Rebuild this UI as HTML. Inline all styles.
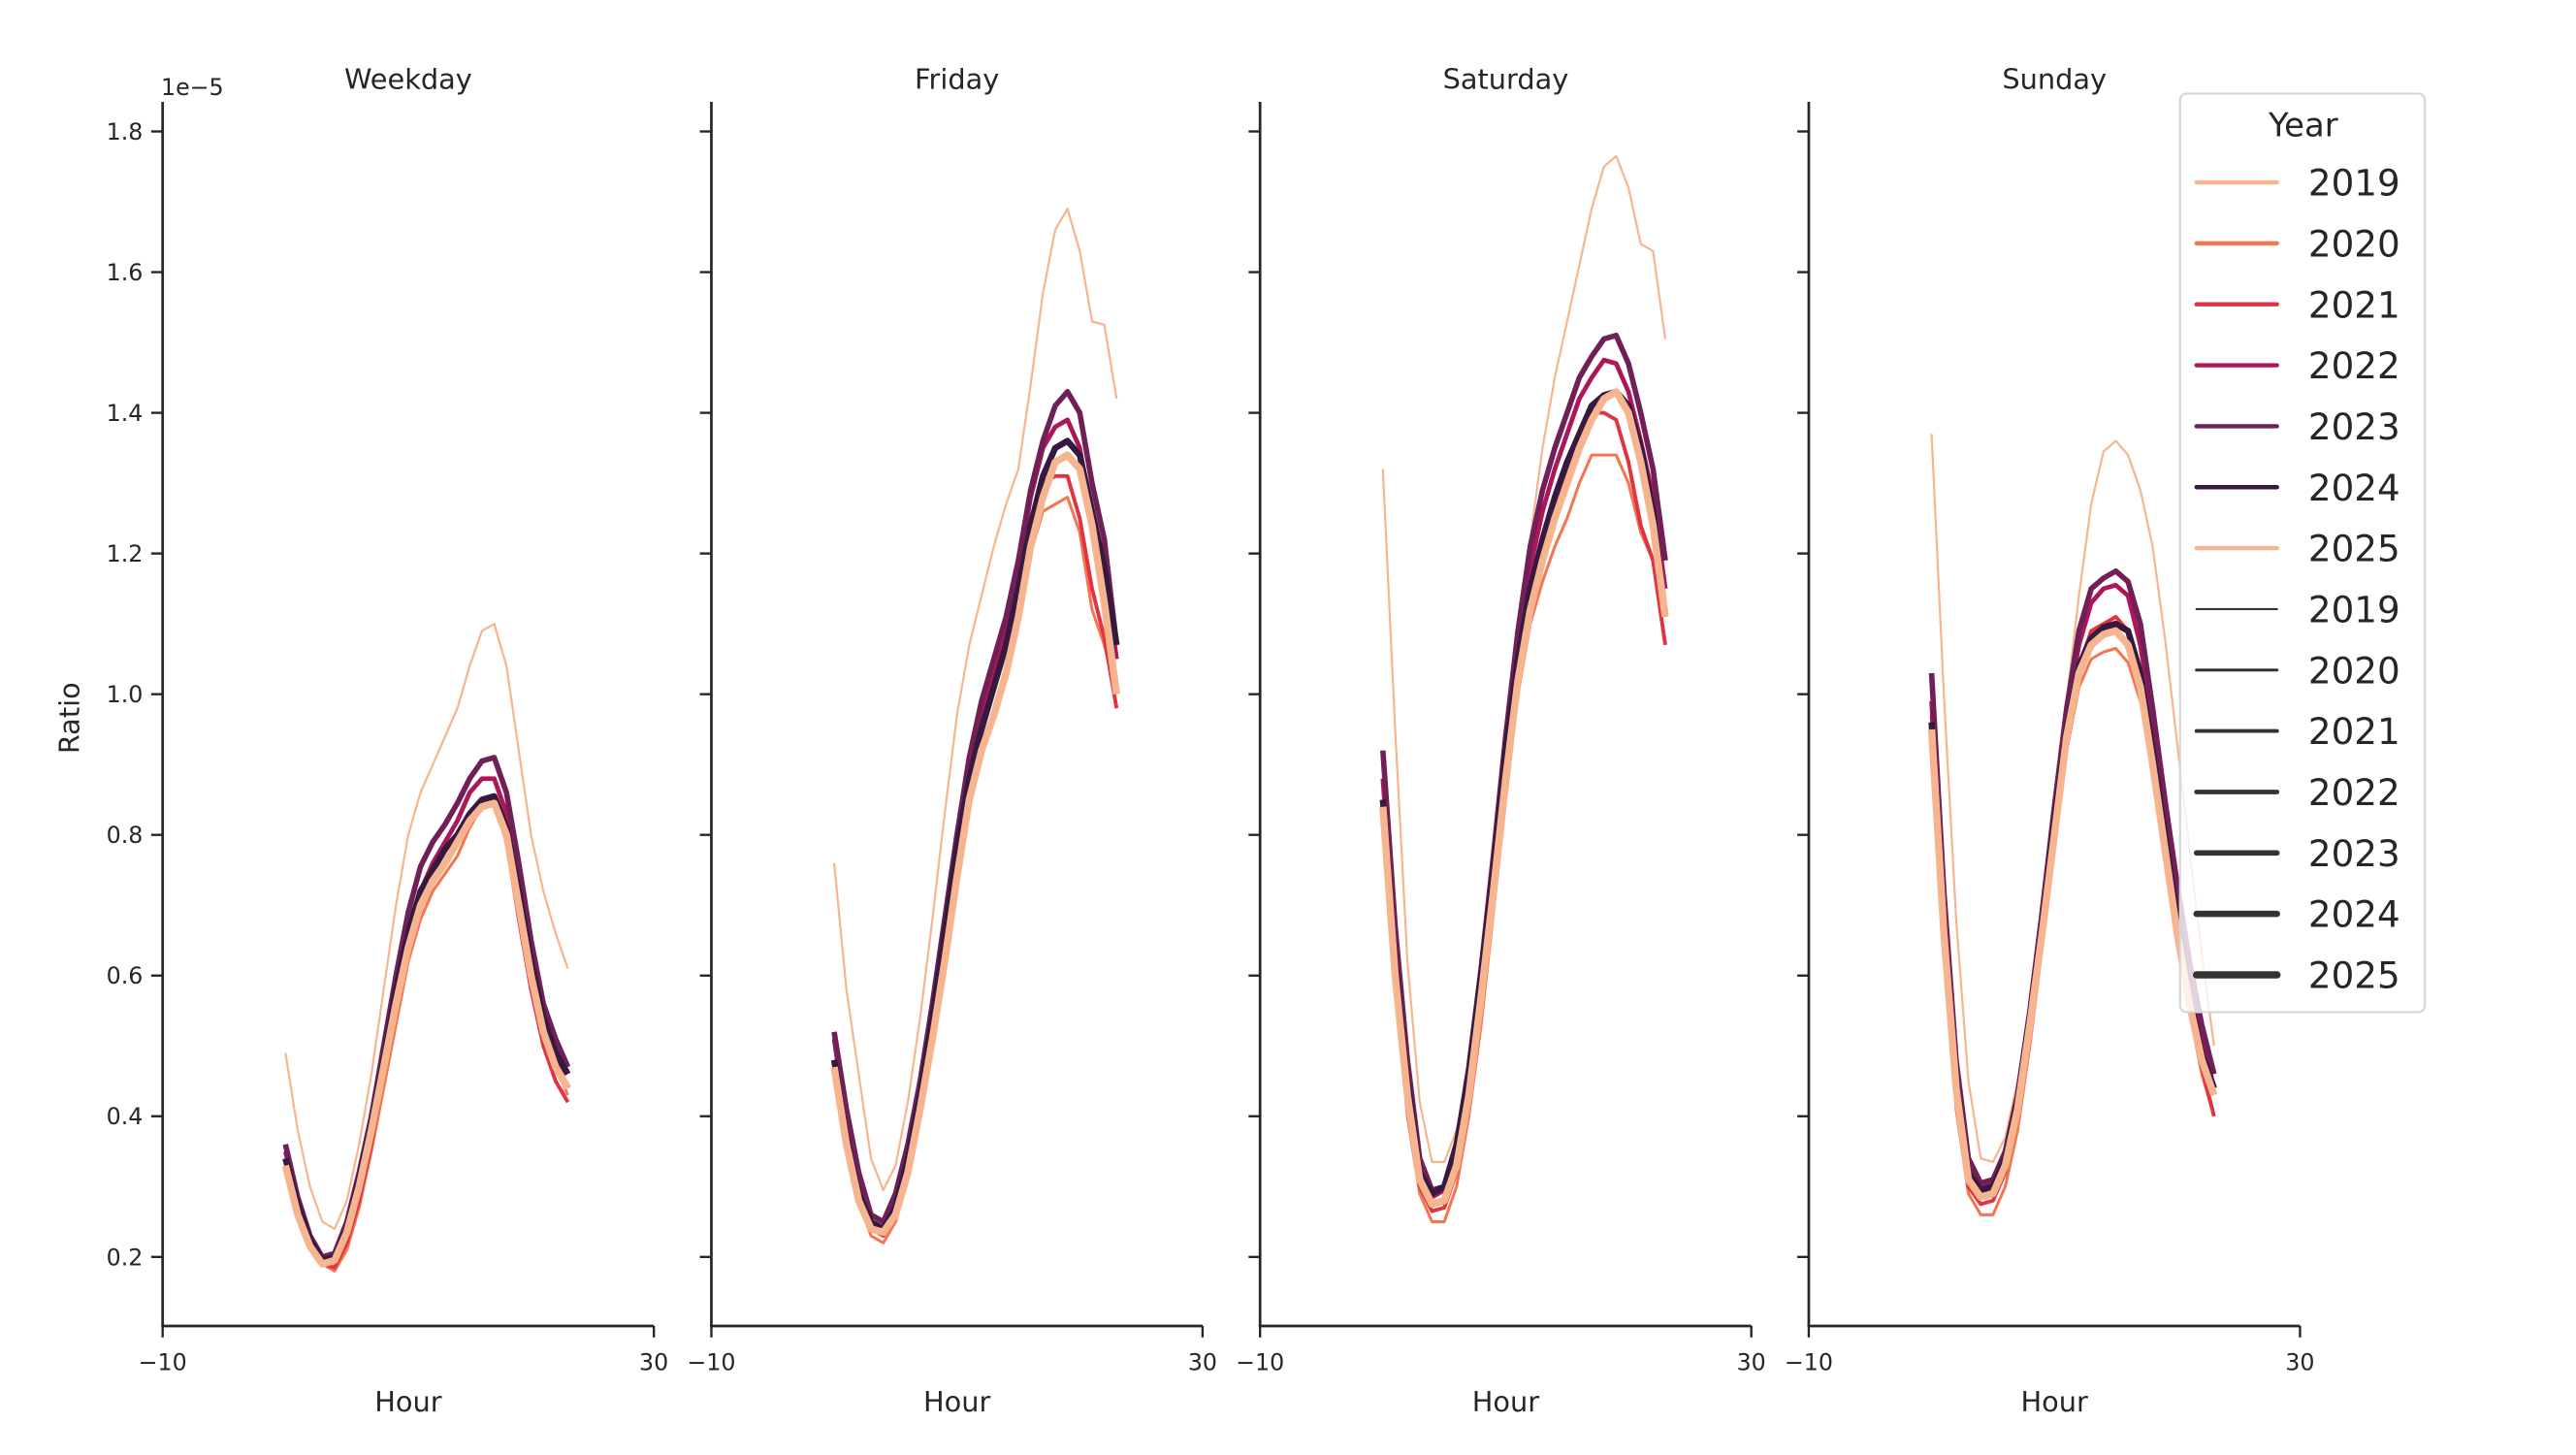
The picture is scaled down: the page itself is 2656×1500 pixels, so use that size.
<!DOCTYPE html>
<html><head><meta charset="utf-8"><style>
html,body{margin:0;padding:0;background:#fff;}
svg{display:block;font-family:"DejaVu Sans","Liberation Sans",sans-serif;}
</style></head><body>
<svg id="chart" width="2656" height="1500" viewBox="0 0 1568 885.54" xmlns="http://www.w3.org/2000/svg">
<rect x="0" y="0" width="1568" height="885.54" fill="#fff"/>
<g id="plots"></g>
<g id="legend"></g>
</svg>
<script>
const years = ['2019','2020','2021','2022','2023','2024','2025'];
const panels = ['Weekday','Friday','Saturday','Sunday'];
const hours = [0,1,2,3,4,5,6,7,8,9,10,11,12,13,14,15,16,17,18,19,20,21,22,23];
const yTicks = [0.2,0.4,0.6,0.8,1.0,1.2,1.4,1.6,1.8];
const yTickLabels = ['0.2','0.4','0.6','0.8','1.0','1.2','1.4','1.6','1.8'];
const xTicks = [-10,30];
const xTickLabels = ['\u221210','30'];
const weekday2019 = [0.49,0.38,0.30,0.25,0.24,0.28,0.36,0.46,0.58,0.70,0.80,0.86,0.90,0.94,0.98,1.04,1.09,1.10,1.04,0.92,0.80,0.72,0.66,0.61];
const weekday2020 = [0.34,0.27,0.22,0.19,0.18,0.21,0.27,0.35,0.44,0.53,0.62,0.68,0.72,0.745,0.77,0.81,0.84,0.845,0.80,0.70,0.60,0.52,0.47,0.43];
const weekday2021 = [0.34,0.27,0.22,0.19,0.185,0.22,0.28,0.36,0.46,0.55,0.64,0.70,0.73,0.76,0.79,0.83,0.85,0.85,0.79,0.68,0.58,0.50,0.45,0.42];
const weekday2022 = [0.35,0.28,0.225,0.195,0.20,0.24,0.31,0.39,0.48,0.58,0.67,0.72,0.76,0.79,0.82,0.86,0.88,0.88,0.83,0.73,0.62,0.54,0.48,0.44];
const weekday2023 = [0.36,0.285,0.23,0.20,0.205,0.25,0.32,0.40,0.50,0.60,0.69,0.755,0.79,0.815,0.845,0.88,0.905,0.91,0.86,0.76,0.65,0.56,0.51,0.47];
const weekday2024 = [0.34,0.275,0.225,0.195,0.20,0.24,0.31,0.39,0.48,0.58,0.66,0.72,0.75,0.78,0.80,0.83,0.85,0.855,0.81,0.72,0.62,0.54,0.49,0.46];
const weekday2025 = [0.33,0.26,0.215,0.19,0.195,0.235,0.30,0.38,0.47,0.56,0.64,0.70,0.735,0.76,0.79,0.82,0.84,0.845,0.80,0.70,0.60,0.52,0.47,0.44];
const friday2019 = [0.76,0.58,0.46,0.34,0.295,0.33,0.42,0.54,0.68,0.83,0.97,1.07,1.14,1.21,1.27,1.32,1.44,1.57,1.66,1.69,1.63,1.53,1.525,1.42];
const friday2020 = [0.47,0.36,0.28,0.23,0.22,0.25,0.31,0.40,0.50,0.62,0.74,0.85,0.92,0.98,1.04,1.12,1.20,1.26,1.27,1.28,1.23,1.12,1.07,1.00];
const friday2021 = [0.48,0.37,0.29,0.24,0.23,0.26,0.33,0.42,0.53,0.65,0.78,0.89,0.96,1.02,1.08,1.17,1.25,1.30,1.31,1.31,1.25,1.15,1.08,0.98];
const friday2022 = [0.51,0.39,0.30,0.25,0.24,0.27,0.34,0.44,0.55,0.67,0.79,0.90,0.97,1.03,1.10,1.18,1.28,1.35,1.38,1.39,1.35,1.25,1.18,1.05];
const friday2023 = [0.52,0.41,0.32,0.26,0.25,0.29,0.36,0.45,0.56,0.68,0.80,0.91,0.99,1.05,1.11,1.19,1.29,1.36,1.41,1.43,1.40,1.30,1.22,1.07];
const friday2024 = [0.48,0.37,0.29,0.25,0.24,0.27,0.34,0.43,0.54,0.66,0.78,0.88,0.95,1.01,1.07,1.15,1.24,1.31,1.35,1.36,1.34,1.26,1.18,1.07];
const friday2025 = [0.47,0.36,0.28,0.24,0.235,0.26,0.32,0.41,0.51,0.62,0.74,0.85,0.92,0.97,1.03,1.11,1.21,1.28,1.33,1.34,1.32,1.24,1.13,1.00];
const saturday2019 = [1.32,0.95,0.62,0.42,0.335,0.335,0.38,0.46,0.57,0.70,0.86,1.04,1.22,1.35,1.45,1.53,1.61,1.69,1.75,1.765,1.72,1.64,1.63,1.505];
const saturday2020 = [0.83,0.58,0.40,0.29,0.25,0.25,0.30,0.40,0.53,0.69,0.85,1.00,1.10,1.16,1.21,1.25,1.30,1.34,1.34,1.34,1.30,1.23,1.19,1.11];
const saturday2021 = [0.84,0.60,0.42,0.30,0.265,0.27,0.32,0.42,0.56,0.72,0.89,1.04,1.14,1.21,1.27,1.32,1.36,1.40,1.40,1.39,1.33,1.24,1.19,1.07];
const saturday2022 = [0.88,0.64,0.46,0.33,0.285,0.295,0.35,0.46,0.60,0.76,0.93,1.07,1.18,1.26,1.32,1.37,1.42,1.45,1.475,1.47,1.43,1.36,1.28,1.15];
const saturday2023 = [0.92,0.67,0.48,0.34,0.295,0.30,0.36,0.47,0.61,0.77,0.94,1.09,1.21,1.29,1.35,1.40,1.45,1.48,1.505,1.51,1.47,1.40,1.32,1.19];
const saturday2024 = [0.85,0.62,0.45,0.32,0.29,0.30,0.36,0.46,0.60,0.75,0.92,1.05,1.15,1.22,1.28,1.33,1.37,1.41,1.425,1.43,1.41,1.35,1.26,1.11];
const saturday2025 = [0.84,0.60,0.43,0.31,0.275,0.28,0.33,0.43,0.57,0.72,0.88,1.02,1.12,1.19,1.25,1.30,1.35,1.39,1.42,1.43,1.40,1.33,1.24,1.11];
const sunday2019 = [1.37,1.00,0.68,0.45,0.34,0.335,0.37,0.45,0.55,0.66,0.82,0.99,1.14,1.27,1.345,1.36,1.34,1.29,1.21,1.08,0.93,0.78,0.63,0.50];
const sunday2020 = [0.96,0.64,0.41,0.29,0.26,0.26,0.30,0.38,0.50,0.64,0.78,0.92,1.01,1.05,1.06,1.065,1.045,0.99,0.90,0.78,0.66,0.55,0.46,0.40];
const sunday2021 = [0.97,0.66,0.43,0.30,0.275,0.28,0.32,0.40,0.52,0.66,0.81,0.95,1.04,1.09,1.10,1.11,1.09,1.03,0.93,0.80,0.68,0.57,0.47,0.40];
const sunday2022 = [0.99,0.69,0.46,0.33,0.30,0.305,0.34,0.42,0.54,0.68,0.83,0.97,1.07,1.13,1.15,1.155,1.14,1.07,0.96,0.83,0.71,0.60,0.51,0.44];
const sunday2023 = [1.03,0.72,0.48,0.34,0.305,0.31,0.35,0.43,0.55,0.69,0.84,0.98,1.09,1.15,1.165,1.175,1.16,1.10,0.98,0.85,0.73,0.62,0.53,0.46];
const sunday2024 = [0.96,0.67,0.45,0.32,0.295,0.30,0.34,0.42,0.54,0.67,0.82,0.95,1.04,1.08,1.095,1.10,1.09,1.03,0.92,0.80,0.68,0.57,0.49,0.44];
const sunday2025 = [0.95,0.66,0.44,0.31,0.285,0.29,0.33,0.41,0.53,0.66,0.80,0.94,1.03,1.07,1.085,1.09,1.07,1.01,0.90,0.78,0.66,0.56,0.48,0.43];
const seriesByPanel = [
  [weekday2019,weekday2020,weekday2021,weekday2022,weekday2023,weekday2024,weekday2025],
  [friday2019,friday2020,friday2021,friday2022,friday2023,friday2024,friday2025],
  [saturday2019,saturday2020,saturday2021,saturday2022,saturday2023,saturday2024,saturday2025],
  [sunday2019,sunday2020,sunday2021,sunday2022,sunday2023,sunday2024,sunday2025]
];

const NS = 'http://www.w3.org/2000/svg';
const colors = ['#f6b48f','#f37651','#e13342','#ad1759','#701f57','#35193e','#f6b48f'];
const widths = [1.3,1.8,2.3,2.8,3.3,3.8,4.4];
const panelLeft = [99,433,767,1101];
const panelW = 299;
const yTop = 62, yBottom = 807;
const xMin = -10, xMax = 30;
function xScale(p, h){ return panelLeft[p] + (h - xMin) / (xMax - xMin) * panelW; }
function yScale(v){ return 765 - (v - 0.2) * 428.125; }
function mk(tag, attrs, parent){ const e = document.createElementNS(NS, tag); for (const k in attrs) e.setAttribute(k, attrs[k]); parent.appendChild(e); return e; }

const plots = document.getElementById('plots');
const txt = '#262626';
panels.forEach((name, p) => {
  const g = mk('g', {}, plots);
  
  
  const left = panelLeft[p];
  const t = mk('text', {x: left + panelW/2, y: 54, 'text-anchor':'middle', 'font-size':'17', fill: txt}, g);
  t.textContent = name;
  
  
  const lg = mk('g', {fill:'none','stroke-linejoin':'round','stroke-linecap':'butt'}, g);
  seriesByPanel[p].forEach((vals, i) => {
    const d = vals.map((v, k) => (k ? 'L' : 'M') + xScale(p, hours[k]).toFixed(2) + ' ' + yScale(v).toFixed(2)).join(' ');
    const path = mk('path', {d: d, stroke: colors[i], 'stroke-width': widths[i]}, lg);
    
    
  });
  const ya = mk('line', {x1:left, y1:yTop, x2:left, y2:yBottom+0.6, stroke:txt, 'stroke-width':1.6}, g);
  
  
  const xa = mk('line', {x1:left-0.8, y1:yBottom, x2:left+panelW, y2:yBottom, stroke:txt, 'stroke-width':1.6}, g);
  
  
  yTicks.forEach((v, k) => {
    const tk = mk('line', {x1:left-7, y1:yScale(v), x2:left, y2:yScale(v), stroke:txt, 'stroke-width':1.4}, g);
    
    
    if (p === 0) {
      const tl = mk('text', {x:left-12, y:yScale(v)+5, 'text-anchor':'end', 'font-size':'14', fill:txt}, g);
      tl.textContent = yTickLabels[k];
      
      
    }
  });
  xTicks.forEach((v, k) => {
    const x = xScale(p, v);
    const tk = mk('line', {x1:x, y1:yBottom, x2:x, y2:yBottom+7, stroke:txt, 'stroke-width':1.4}, g);
    
    
    const tl = mk('text', {x:x, y:yBottom+27, 'text-anchor':'middle', 'font-size':'14', fill:txt}, g);
    tl.textContent = xTickLabels[k];
    
    
  });
  const xt = mk('text', {x:left+panelW/2, y:859, 'text-anchor':'middle', 'font-size':'17', fill:txt}, g);
  xt.textContent = 'Hour';
  
  
});
const off = mk('text', {x:98, y:58, 'font-size':'14', fill:txt}, plots);
off.textContent = '1e\u22125';


const yt = mk('text', {x:0, y:0, 'text-anchor':'middle', 'font-size':'17', fill:txt, transform:'translate(48,437) rotate(-90)'}, plots);
yt.textContent = 'Ratio';



const leg = document.getElementById('legend');


mk('rect', {x:1327, y:57, width:149, height:559, rx:4, fill:'#fff', 'fill-opacity':0.8, stroke:'#d6d6d6', 'stroke-width':1.3}, leg);
const lt = mk('text', {x:1402, y:83, 'text-anchor':'middle', 'font-size':'20', fill:txt}, leg);
lt.textContent = 'Year';


years.forEach((y, i) => {
  const cy = 111 + i * 37.1;
  const ln = mk('line', {x1:1337, y1:cy, x2:1386, y2:cy, stroke:colors[i], 'stroke-width':2.6, 'stroke-linecap':'round'}, leg);
  
  
  const tx = mk('text', {x:1405, y:cy+8, 'font-size':'22', fill:txt}, leg);
  tx.textContent = y;
  
  
});
years.forEach((y, i) => {
  const cy = 111 + (i + 7) * 37.1;
  const ln = mk('line', {x1:1337, y1:cy, x2:1386, y2:cy, stroke:'#333', 'stroke-width':widths[i], 'stroke-linecap':'round'}, leg);
  
  
  const tx = mk('text', {x:1405, y:cy+8, 'font-size':'22', fill:txt}, leg);
  tx.textContent = y;
  
  
});
</script>
</body></html>
